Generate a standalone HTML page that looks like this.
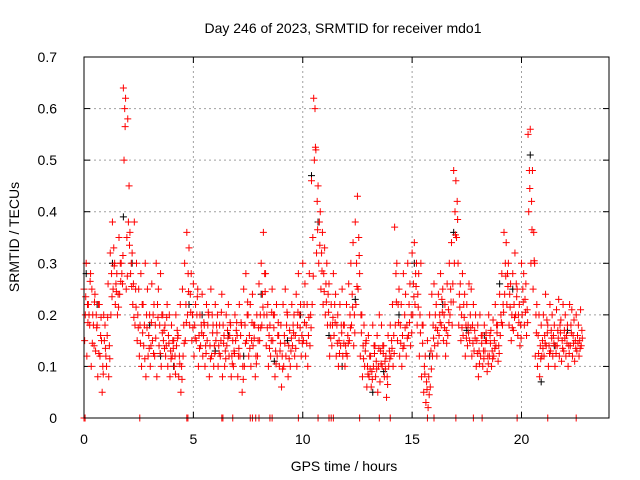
<!DOCTYPE html>
<html><head><meta charset="utf-8"><style>
body{margin:0;background:#fff}
svg{display:block;font-family:"Liberation Sans",sans-serif}
</style></head><body>
<svg id="chart" width="640" height="480" xmlns="http://www.w3.org/2000/svg">
<rect width="640" height="480" fill="#fff"/>
<text x="343" y="33" text-anchor="middle" font-size="14">Day 246 of 2023, SRMTID for receiver mdo1</text>
<text transform="translate(19,237) rotate(-90)" text-anchor="middle" font-size="14">SRMTID / TECUs</text>
<text x="344" y="471" text-anchor="middle" font-size="14">GPS time / hours</text>
<g id="grid"></g>
<g id="ticks"></g>
<g id="marks"></g>
<rect x="84" y="57" width="525" height="361" fill="none" stroke="#000" stroke-width="1"/>
</svg>
<script>
const xTicks=[0,5,10,15,20];
const yTicks=[0,0.1,0.2,0.3,0.4,0.5,0.6,0.7];
const yTickLabels=["0","0.1","0.2","0.3","0.4","0.5","0.6","0.7"];
const tStart=0, tStep=0.1;
const seriesA=[.25,.30,.22,.28,.20,.24,.18,.22,.15,.20,
.12,.26,.32,.38,.30,.28,.35,.30,.64,.62,
.58,.36,.32,.38,.30,.25,.28,.22,.30,.25,
.20,.26,.22,.30,.25,.28,.20,.18,.22,.20,
.18,.15,.20,.16,.22,.25,.30,.36,.33,.28,
.26,.22,.25,.20,.24,.18,.22,.20,.25,.18,
.22,.20,.18,.24,.16,.20,.22,.18,.15,.20,
.16,.22,.18,.25,.28,.20,.22,.24,.18,.20,
.26,.30,.36,.28,.22,.18,.25,.20,.22,.16,
.18,.22,.25,.20,.17,.22,.20,.24,.28,.22,
.30,.26,.22,.28,.46,.62,.52,.45,.40,.36,
.33,.30,.26,.22,.28,.24,.20,.22,.25,.18,
.22,.26,.30,.34,.38,.43,.28,.20,.18,.15,
.16,.12,.18,.14,.16,.20,.18,.14,.12,.16,
.18,.22,.37,.30,.25,.22,.28,.24,.30,.26,
.32,.34,.30,.28,.30,.18,.12,.15,.20,.24,
.26,.22,.24,.28,.25,.22,.26,.30,.34,.48,
.46,.30,.26,.28,.24,.22,.26,.25,.22,.20,
.18,.20,.16,.18,.15,.20,.17,.19,.22,.18,
.24,.28,.36,.34,.30,.26,.28,.32,.25,.22,
.30,.28,.26,.55,.56,.48,.30,.22,.20,.18,
.20,.24,.18,.22,.20,.18,.21,.23,.19,.22,
.20,.18,.22,.21,.19,.20,.18,.21];
const seriesB=[.15,.12,.20,.10,.18,.13,.08,.12,.05,.15,
.10,.08,.20,.25,.22,.20,.24,.28,.50,.25,
.38,.28,.22,.18,.15,.12,.10,.14,.08,.12,
.10,.15,.12,.08,.14,.10,.15,.12,.10,.08,
.12,.10,.14,.08,.05,.12,.15,.20,.18,.15,
.12,.15,.10,.14,.12,.10,.15,.08,.12,.10,
.15,.10,.12,.08,.10,.14,.12,.08,.10,.15,
.08,.12,.05,.10,.15,.12,.10,.14,.08,.12,
.15,.18,.20,.14,.10,.12,.15,.08,.12,.10,
.06,.10,.12,.08,.10,.14,.12,.10,.15,.12,
.15,.12,.10,.14,.22,.50,.32,.30,.25,.22,
.20,.18,.12,.14,.16,.12,.10,.14,.12,.10,
.12,.15,.18,.14,.22,.25,.12,.08,.10,.06,
.08,.06,.10,.08,.05,.07,.10,.08,.04,.10,
.12,.10,.18,.15,.12,.10,.14,.12,.16,.14,
.20,.22,.18,.12,.08,.05,.03,.02,.06,.12,
.14,.12,.16,.18,.15,.12,.16,.20,.18,.30,
.35,.18,.15,.16,.12,.14,.15,.12,.13,.10,
.08,.12,.10,.13,.09,.12,.10,.12,.14,.11,
.16,.18,.24,.22,.18,.15,.17,.20,.16,.14,
.20,.18,.16,.40,.30,.25,.12,.10,.08,.12,
.12,.14,.10,.13,.12,.10,.14,.12,.11,.13,
.12,.10,.14,.12,.11,.13,.12,.14];
const seriesC=[.20,.22,.18,.25,.14,.20,.22,.16,.10,.18,
.16,.14,.28,.33,.26,.24,.30,.26,.60,.35,
.45,.30,.26,.25,.20,.18,.22,.18,.20,.16,
.14,.20,.18,.22,.18,.20,.17,.14,.16,.13,
.15,.12,.17,.12,.10,.18,.22,.28,.24,.20,
.18,.20,.16,.18,.16,.14,.18,.14,.20,.14,
.18,.14,.15,.18,.13,.17,.16,.12,.13,.17,
.12,.16,.10,.18,.20,.16,.15,.18,.12,.15,
.20,.24,.28,.20,.16,.15,.20,.13,.16,.13,
.12,.16,.18,.14,.13,.18,.16,.18,.20,.16,
.22,.18,.16,.20,.35,.60,.42,.38,.32,.28,
.26,.24,.18,.18,.22,.18,.15,.18,.18,.14,
.16,.20,.24,.20,.30,.35,.20,.14,.13,.10,
.12,.09,.14,.11,.10,.13,.14,.11,.08,.13,
.15,.16,.28,.22,.18,.16,.20,.18,.22,.20,
.26,.28,.24,.20,.18,.10,.07,.08,.13,.18,
.20,.17,.20,.23,.20,.17,.21,.25,.26,.40,
.42,.24,.20,.22,.18,.18,.20,.18,.17,.15,
.13,.16,.13,.15,.12,.16,.13,.15,.18,.14,
.20,.22,.30,.28,.24,.20,.22,.26,.20,.18,
.25,.23,.21,.48,.42,.36,.20,.16,.14,.15,
.16,.19,.14,.17,.16,.14,.17,.18,.15,.17,
.16,.14,.18,.16,.15,.16,.15,.17];
const seriesD=[.235,.185,.265,.145,.225,.175,.125,.195,.085,.135,
.195,.115,.235,.295,.245,.215,.265,.315,.565,.275,
.335,.255,.195,.215,.175,.145,.165,.115,.175,.135,
.185,.125,.155,.195,.125,.165,.135,.195,.145,.115,
.135,.085,.155,.105,.075,.145,.185,.245,.205,.175,
.155,.235,.135,.165,.185,.125,.205,.115,.165,.125,
.165,.125,.205,.145,.115,.155,.185,.105,.125,.185,
.135,.185,.075,.145,.225,.135,.185,.155,.105,.175,
.175,.215,.245,.175,.135,.205,.175,.105,.185,.145,
.095,.145,.205,.115,.155,.165,.135,.205,.175,.145,
.185,.145,.195,.175,.275,.525,.365,.335,.285,.245,
.225,.205,.155,.195,.185,.145,.125,.165,.145,.125,
.145,.175,.215,.165,.255,.315,.165,.115,.145,.085,
.095,.075,.125,.095,.135,.105,.125,.095,.065,.115,
.135,.125,.225,.185,.145,.135,.175,.155,.185,.165,
.235,.255,.215,.165,.145,.085,.055,.045,.095,.155,
.175,.145,.185,.205,.175,.145,.185,.225,.225,.355,
.385,.215,.175,.195,.155,.165,.175,.145,.155,.125,
.105,.145,.115,.165,.105,.145,.115,.135,.165,.125,
.185,.205,.275,.255,.215,.175,.195,.235,.185,.155,
.225,.205,.185,.445,.365,.305,.165,.125,.115,.135,
.145,.165,.125,.155,.145,.125,.155,.165,.135,.155,
.145,.125,.165,.145,.135,.145,.135,.155];
const blackTimes=[0.1,0.6,1.3,1.8,2.2,3.0,3.5,4.1,4.8,5.4,6.0,6.6,7.3,8.1,8.7,9.3,9.9,10.4,10.7,11.2,11.8,12.4,13.2,13.7,14.4,15.1,15.8,16.4,16.9,17.5,18.3,19.0,19.6,20.4,20.9,21.5,22.1];
const blackValues=[.28,.22,.30,.39,.30,.18,.12,.10,.22,.20,.13,.16,.12,.24,.11,.15,.20,.47,.38,.16,.10,.23,.05,.09,.20,.30,.12,.22,.36,.17,.16,.26,.25,.51,.07,.14,.17];
const zeroTimes=[0,0.05,2.55,4.7,4.75,6.3,6.35,6.8,7.6,7.7,7.85,8.0,8.5,8.6,9.8,10.7,11.2,11.3,11.4,12.6,13.5,14.0,15.7,16.0,17.0,17.8,18.2,19.8,21.2,22.5];

const X0=84,X1=609,Y0=418,Y1=57,XMAX=24,YMAX=0.7;
const sx=t=>X0+(t/XMAX)*(X1-X0);
const sy=v=>Y0-(v/YMAX)*(Y0-Y1);
const NS="http://www.w3.org/2000/svg";
function mk(tag,attrs,parent){const e=document.createElementNS(NS,tag);for(const k in attrs)e.setAttribute(k,attrs[k]);parent.appendChild(e);return e;}
const grid=document.getElementById('grid'),ticks=document.getElementById('ticks'),marks=document.getElementById('marks');
xTicks.forEach(t=>{
  const x=sx(t);
  if(t>0){const g=mk('line',{x1:x,y1:Y0,x2:x,y2:Y1,stroke:'#a0a0a0','stroke-dasharray':'2,3'},grid);
  
  }
  mk('line',{x1:x,y1:Y0,x2:x,y2:Y0-6,stroke:'#000'},ticks);
  mk('line',{x1:x,y1:Y1,x2:x,y2:Y1+6,stroke:'#000'},ticks);
  const l=mk('text',{x:x,y:444,'text-anchor':'middle','font-size':'14'},ticks);
  l.textContent=String(t);
  
  
});
yTicks.forEach((v,i)=>{
  const y=sy(v);
  if(v>0&&v<YMAX){const g=mk('line',{x1:X0,y1:y,x2:X1,y2:y,stroke:'#a0a0a0','stroke-dasharray':'2,3'},grid);
  
  }
  mk('line',{x1:X0,y1:y,x2:X0+6,y2:y,stroke:'#000'},ticks);
  mk('line',{x1:X1,y1:y,x2:X1-6,y2:y,stroke:'#000'},ticks);
  const l=mk('text',{x:57,y:y+5,'text-anchor':'end','font-size':'14'},ticks);
  l.textContent=yTickLabels[i];
  
  
});
function plus(t,v,color,name){
  const x=sx(t),y=sy(v);
  const p=mk('path',{d:`M${x-3.5},${y}H${x+3.5}M${x},${y-3.5}V${y+3.5}`,stroke:color,'stroke-width':'1',fill:'none'},marks);
  
  
}
blackTimes.forEach((t,i)=>plus(t,blackValues[i],'#000','black-point'));
seriesA.forEach((v,i)=>plus(tStart+i*tStep,v,'#f00','red-point'));
seriesB.forEach((v,i)=>plus(tStart+i*tStep+0.03,v,'#f00','red-point'));
seriesC.forEach((v,i)=>plus(tStart+i*tStep+0.06,v,'#f00','red-point'));
seriesD.forEach((v,i)=>plus(tStart+i*tStep+0.08,v,'#f00','red-point'));
zeroTimes.forEach(t=>plus(t,0,'#f00','zero-point'));
</script>
</body></html>
